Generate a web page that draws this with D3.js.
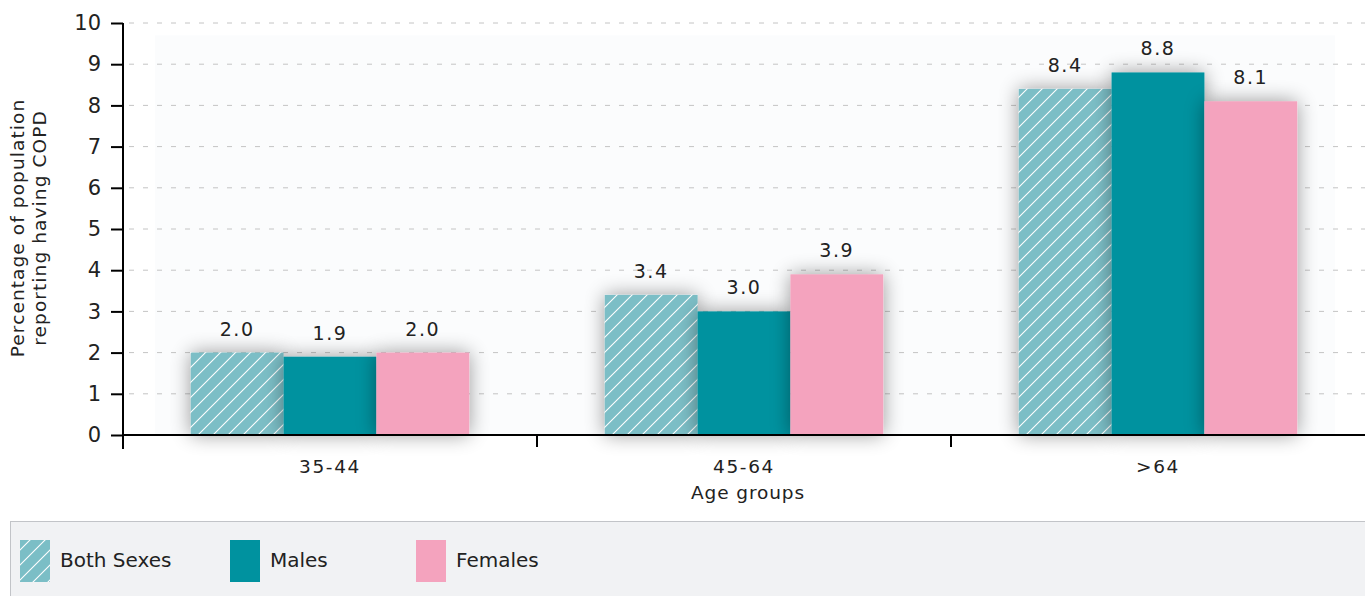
<!DOCTYPE html>
<html>
<head>
<meta charset="utf-8">
<script src="https://cdn.jsdelivr.net/npm/d3@7"></script>
<style>
  html, body { margin: 0; padding: 0; background: #ffffff; }
  svg { display: block; }
  text { font-family: "DejaVu Sans", sans-serif; fill: #222; }
</style>
</head>
<body>
<svg id="chart" width="1365" height="596"></svg>
<script>
// Age groups on the category axis
const ageGroups = ["35-44", "45-64", ">64"];
// Series names and values (% reporting COPD)
const seriesNames = ["Both Sexes", "Males", "Females"];
const bothSexes = [2.0, 3.4, 8.4];
const males = [1.9, 3.0, 8.8];
const females = [2.0, 3.9, 8.1];
const yTicks = [0, 1, 2, 3, 4, 5, 6, 7, 8, 9, 10];

const seriesValues = [bothSexes, males, females];
const colors = ["#7bbec6", "#00929f", "#f4a3be"];

const svg = d3.select("#chart");
const W = 1365, H = 596;
const m = { left: 123, right: 0, top: 23, bottom: 161 };
const plotW = W - m.left - m.right;
const plotH = H - m.top - m.bottom;

const defs = svg.append("defs");
// diagonal hatch for "Both Sexes"
const pat = defs.append("pattern")
  .attr("id", "hatch").attr("patternUnits", "userSpaceOnUse")
  .attr("width", 15).attr("height", 15);
pat.append("rect").attr("width", 15).attr("height", 15).attr("fill", colors[0]);
pat.append("path").attr("d", "M-2,17 L17,-2 M-2,2 L2,-2 M13,17 L17,13")
  .attr("stroke", "#ffffff").attr("stroke-width", 1.1);
// soft shadow behind bars
const f = defs.append("filter").attr("id", "shadow")
  .attr("x", "-40%").attr("y", "-30%").attr("width", "180%").attr("height", "160%");
f.append("feGaussianBlur").attr("in", "SourceAlpha").attr("stdDeviation", 10).attr("result", "b");
f.append("feComponentTransfer").attr("in", "b").attr("result", "c")
  .append("feFuncA").attr("type", "linear").attr("slope", 0.4);
const merge = f.append("feMerge");
merge.append("feMergeNode").attr("in", "c");
merge.append("feMergeNode").attr("in", "SourceGraphic");

const x0 = d3.scaleBand().domain(ageGroups).range([m.left, m.left + plotW]).paddingInner(0).paddingOuter(0);
const x1 = d3.scaleBand().domain(seriesNames).range([0, x0.bandwidth()]).paddingInner(0).paddingOuter(0.73);
const y = d3.scaleLinear().domain([0, 10]).range([m.top + plotH, m.top]);

// faint plot backdrop
svg.append("rect")
  .attr("x", 155).attr("y", y(9.7)).attr("width", 1180).attr("height", y(0) - y(9.7))
  .attr("fill", "#fbfcfd");

// dashed gridlines
svg.append("g").selectAll("line").data(yTicks.filter(d => d > 0)).join("line")
  .attr("x1", m.left + 6).attr("x2", W)
  .attr("y1", d => y(d)).attr("y2", d => y(d))
  .attr("stroke", "#c4c4c4").attr("stroke-width", 1).attr("stroke-dasharray", "5,9");

// bars
const groups = svg.append("g").selectAll("g").data(ageGroups).join("g")
  .attr("transform", d => `translate(${x0(d)},0)`);
const cells = (g, gi) => seriesNames.map((s, si) => ({ s, si, v: seriesValues[si][gi] }));
groups.selectAll("rect").data(cells).join("rect")
  .attr("x", d => x1(d.s)).attr("width", x1.bandwidth())
  .attr("y", d => y(d.v)).attr("height", d => y(0) - y(d.v))
  .attr("fill", d => d.si === 0 ? "url(#hatch)" : colors[d.si])
  .attr("filter", "url(#shadow)");
groups.selectAll("text").data(cells).join("text")
  .attr("x", d => x1(d.s) + x1.bandwidth() / 2)
  .attr("y", d => y(d.v) - 17)
  .attr("text-anchor", "middle").attr("font-size", 19).attr("letter-spacing", 1.6)
  .text(d => d.v.toFixed(1));

// y axis
const yAxis = svg.append("g").attr("transform", `translate(${m.left},0)`)
  .call(d3.axisLeft(y).tickValues(yTicks).tickSize(12).tickPadding(10).tickFormat(d3.format("d")));
yAxis.select(".domain").attr("stroke", "#000").attr("stroke-width", 2).attr("d", `M0,${y(10)}V${y(0) + 14}`);
yAxis.selectAll(".tick line").attr("stroke", "#000").attr("stroke-width", 2);
yAxis.selectAll(".tick text").attr("font-size", 21).attr("font-family", "DejaVu Sans").attr("fill", "#222");

// x axis with ticks at the band boundaries
const xAxisG = svg.append("g");
xAxisG.append("line").attr("x1", m.left).attr("x2", W).attr("y1", y(0)).attr("y2", y(0))
  .attr("stroke", "#000").attr("stroke-width", 2);
xAxisG.selectAll("line.tk").data(ageGroups.slice(1)).join("line").attr("class", "tk")
  .attr("x1", d => x0(d)).attr("x2", d => x0(d))
  .attr("y1", y(0)).attr("y2", y(0) + 12)
  .attr("stroke", "#000").attr("stroke-width", 2);
xAxisG.selectAll("text").data(ageGroups).join("text")
  .attr("x", d => x0(d) + x0.bandwidth() / 2).attr("y", y(0) + 38)
  .attr("text-anchor", "middle").attr("font-size", 18.5).attr("letter-spacing", 1.6)
  .text(d => d);

// axis titles
svg.append("text").attr("x", 748).attr("y", 499).attr("text-anchor", "middle")
  .attr("font-size", 18.5).attr("letter-spacing", 0.9).text("Age groups");
const yt = svg.append("text").attr("transform", "translate(24,228) rotate(-90)")
  .attr("text-anchor", "middle").attr("font-size", 18.5).attr("letter-spacing", 1.1);
yt.append("tspan").attr("x", 0).attr("dy", 0).text("Percentage of population");
yt.append("tspan").attr("x", 0).attr("dy", 22).text("reporting having COPD");

// legend
const leg = svg.append("g");
leg.append("rect").attr("x", 10.5).attr("y", 521.5).attr("width", W).attr("height", 80)
  .attr("fill", "#f1f2f4").attr("stroke", "#c2c4c8");
const legX = [20, 230, 416];
seriesNames.forEach((s, i) => {
  leg.append("rect").attr("x", legX[i]).attr("y", 540).attr("width", 30).attr("height", 42)
    .attr("fill", i === 0 ? "url(#hatch)" : colors[i]);
  leg.append("text").attr("x", legX[i] + 40).attr("y", 567)
    .attr("font-family", "Liberation Sans Narrow, Liberation Sans, sans-serif")
    .attr("font-size", 20).text(s);
});
</script>
</body>
</html>
